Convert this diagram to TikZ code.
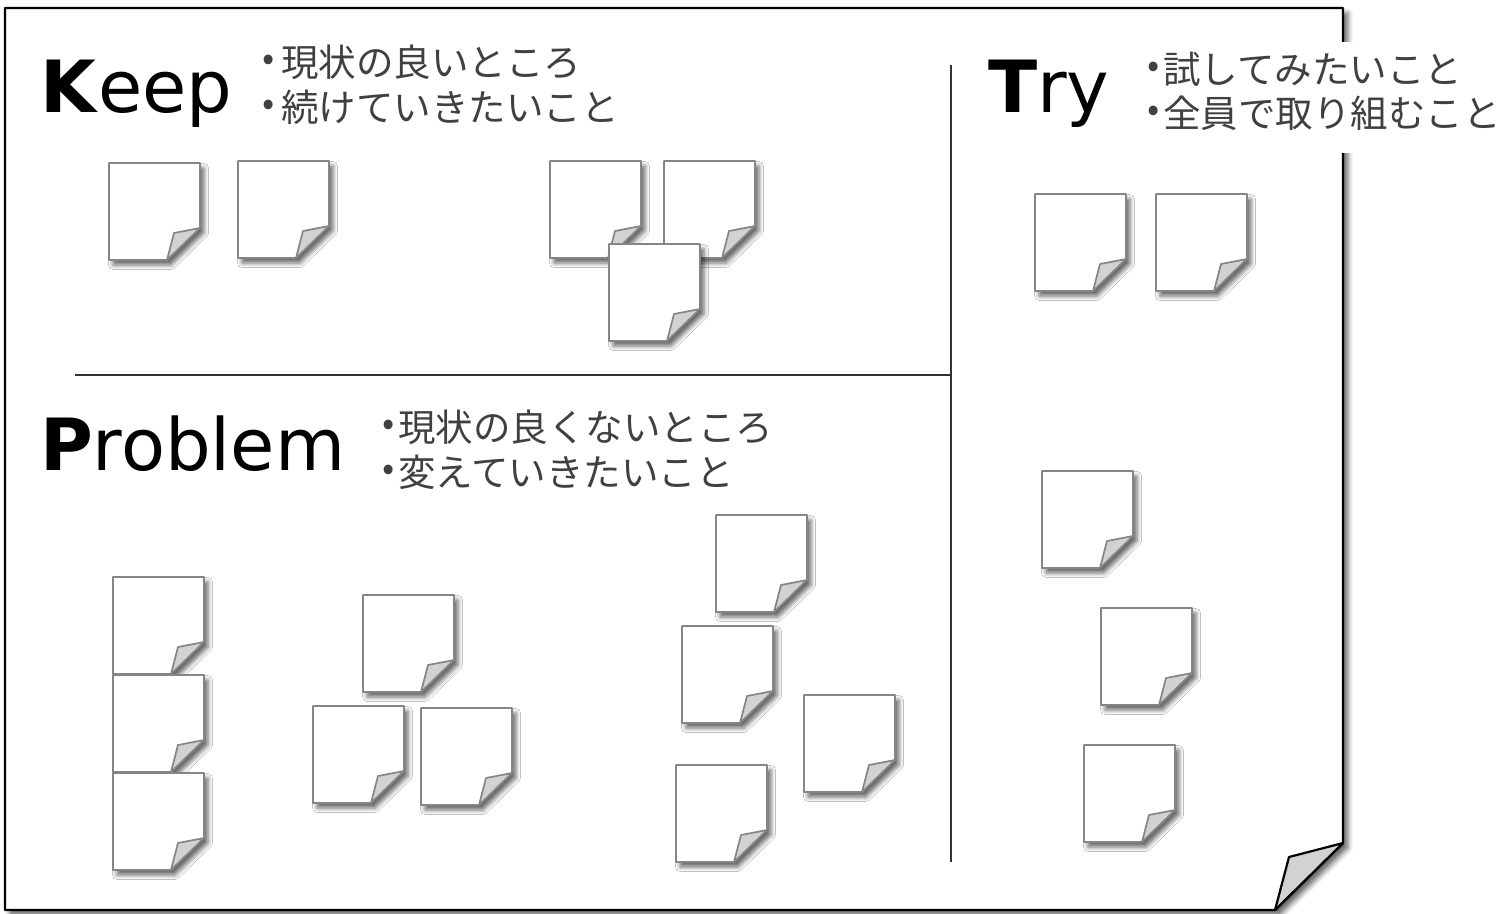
\documentclass[tikz,border=0pt]{standalone}
\usepackage{fontspec}
\setmainfont{DejaVu Sans}
\newfontfamily\jp{Noto Sans CJK JP}
\usetikzlibrary{shadows.blur}
\definecolor{notegray}{HTML}{858585}
\definecolor{foldgray}{HTML}{D2D2D2}
\definecolor{txtgray}{HTML}{404040}
\definecolor{linegray}{HTML}{333333}
\tikzset{
  notebody/.style={draw=notegray, line width=1.7pt, fill=white, line join=round,
    blur shadow={shadow xshift=4pt, shadow yshift=-5pt, shadow blur radius=4.5pt, shadow opacity=60}},
  notefold/.style={draw=notegray, line width=1.7pt, fill=foldgray, line join=round},
  pics/stickynote/.style={code={
    \path[notebody] (0,0) -- (91,0) -- (91,65) -- (58,97) -- (0,97) -- cycle;
    \path[notefold] (58,97) -- (65,70) -- (91,65) -- cycle;
    \coordinate (-c) at (45,48);
  }},
  title/.style={anchor=base west, inner sep=0pt, font=\fontsize{72}{80}\selectfont, text=black},
  jtext/.style={anchor=base west, inner sep=0pt, font=\jp\fontsize{37.5}{40}\selectfont, text=txtgray},
  jbullet/.style={anchor=center, inner sep=0pt, font=\jp\fontsize{36}{40}\selectfont, text=txtgray},
  divider/.style={draw=linegray, line width=1.6pt},
}
\begin{document}
\begin{tikzpicture}[x=1pt, y=-1pt]
\useasboundingbox (0,0) rectangle (1509,913);
% big sheet
\path[draw=black, line width=2.2pt, fill=white, line join=round,
  blur shadow={shadow xshift=5pt, shadow yshift=-5pt, shadow blur radius=5pt, shadow opacity=60}]
  (5,8) -- (1343,8) -- (1343,843) -- (1275,910) -- (5,910) -- cycle;
\path[draw=black, line width=2.2pt, fill=foldgray, line join=round]
  (1275,910) -- (1289,857) -- (1343,843) -- cycle;
\fill[white] (1140,42) rectangle (1509,153);
% dividers
\coordinate (vtop) at (951,65);
\coordinate (vbot) at (951,862);
\coordinate (hl) at (75,375);
\coordinate (hr) at (951,375);
\draw[divider] (vtop) -- (vbot);
\draw[divider] (hl) -- (hr);
% titles
\node[title] (keep) at (40,112) {\textbf{K}eep};
\node[title] (try) at (988,112) {\textbf{T}ry};
\node[title] (problem) at (40,470) {\textbf{P}roblem};
% bullet texts
\node[jbullet] (kb1) at (269,63) {•};
\node[jtext] (kt1) at (281,76) {現状の良いところ};
\node[jbullet] (kb2) at (269,108) {•};
\node[jtext] (kt2) at (281,121) {続けていきたいこと};
\node[jbullet] (tb1) at (1154,70) {•};
\node[jtext] (tt1) at (1163,83) {試してみたいこと};
\node[jbullet] (tb2) at (1154,114) {•};
\node[jtext] (tt2) at (1163,127) {全員で取り組むこと};
\node[jbullet] (pb1) at (389,428) {•};
\node[jtext] (pt1) at (398,441) {現状の良くないところ};
\node[jbullet] (pb2) at (389,473) {•};
\node[jtext] (pt2) at (398,486) {変えていきたいこと};
% Keep notes
\pic (n1) at (109,163) {stickynote};
\pic (n2) at (238,161) {stickynote};
\pic (n3) at (550,161) {stickynote};
\pic (n4) at (664,161) {stickynote};
\pic (n5) at (609,244) {stickynote};
% Try notes
\pic (n6) at (1035,194) {stickynote};
\pic (n7) at (1156,194) {stickynote};
\pic (n8) at (1042,471) {stickynote};
\pic (n9) at (1101,608) {stickynote};
\pic (n10) at (1084,745) {stickynote};
% Problem notes
\pic (n11) at (113,577) {stickynote};
\pic (n12) at (113,675) {stickynote};
\pic (n13) at (113,773) {stickynote};
\pic (n14) at (363,595) {stickynote};
\pic (n15) at (313,706) {stickynote};
\pic (n16) at (421,708) {stickynote};
\pic (n17) at (716,515) {stickynote};
\pic (n18) at (682,626) {stickynote};
\pic (n19) at (804,695) {stickynote};
\pic (n20) at (676,765) {stickynote};
\end{tikzpicture}
\end{document}
